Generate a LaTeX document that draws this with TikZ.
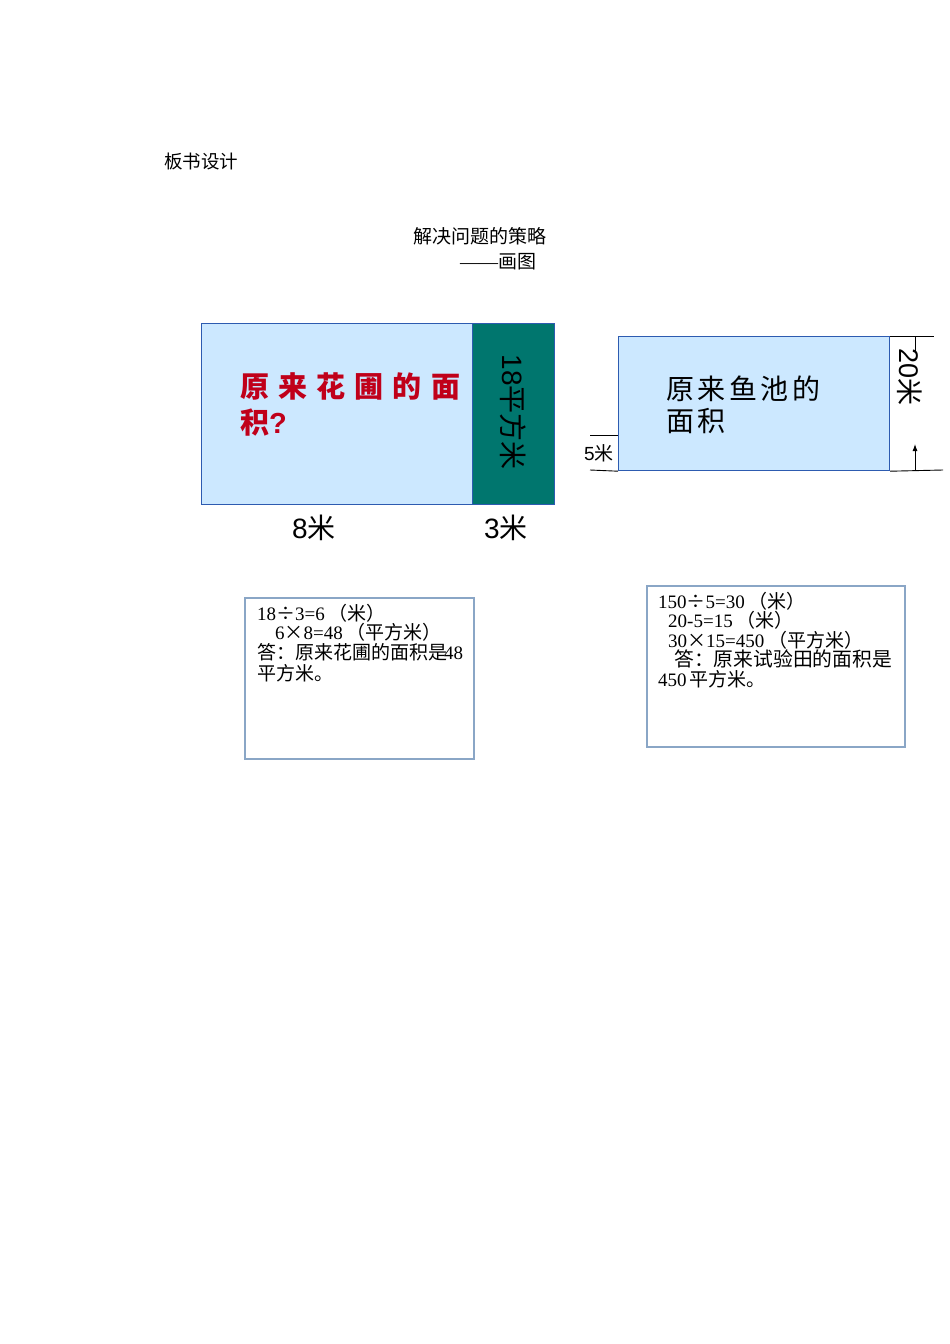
\documentclass[tikz,border=0pt]{standalone}
\usepackage{fontspec}
\setmainfont{Liberation Serif}
\newfontfamily\cjk{Noto Sans CJK SC}
\newfontfamily\hei{Liberation Sans}
\usetikzlibrary{arrows.meta}
\definecolor{lightfill}{HTML}{CCE8FF}
\definecolor{rectborder}{HTML}{2D5BB0}
\definecolor{tealfill}{HTML}{00766E}
\definecolor{boxborder}{HTML}{8AA6C6}
\definecolor{darkred}{HTML}{C0001A}
\tikzset{
  field/.style={draw=rectborder, line width=1.2pt, fill=lightfill, inner sep=0pt, anchor=north west},
  strip/.style={draw=rectborder, line width=1.2pt, fill=tealfill, inner sep=0pt, anchor=north west},
  answerbox/.style={draw=boxborder, line width=2pt, inner sep=0pt, anchor=north west},
  plain/.style={anchor=base west, inner sep=0pt, font=\cjk\fontsize{18.5}{19}\selectfont},
  boxtext/.style={anchor=base west, inner sep=0pt, font=\fontsize{19}{19.5}\selectfont},
  bigred/.style={anchor=base west, inner sep=0pt, text=darkred, font=\cjk\bfseries\fontsize{29}{30}\selectfont},
  bigblack/.style={anchor=base west, inner sep=0pt, font=\cjk\fontsize{28}{30}\selectfont},
  dimlabel/.style={inner sep=0pt, font=\hei\fontsize{28}{28}\selectfont},
  dimline/.style={line width=0.9pt, black},
}
\newcommand{\fw}[1]{{\cjk #1}}
\begin{document}
\begin{tikzpicture}[x=1pt,y=-1pt]
\useasboundingbox[fill=white] (0,0) rectangle (950,1344);

% titles
\node[plain] (t1) at (164,168) {板书设计};
\node[plain, font=\cjk\fontsize{19}{19}\selectfont] (t2) at (413,243) {解决问题的策略};
\node[plain, font=\cjk\fontsize{19}{19}\selectfont] (t3) at (460,268) {{\rmfamily ——}画图};

% left figure
\node[field, minimum width=271pt, minimum height=181pt] (garden) at (201,323) {};
\node[strip, minimum width=82pt, minimum height=181pt] (extra) at (472,323) {};
\node[bigred] (r1) at (240,397) {原\hspace{9.2pt}来\hspace{9.2pt}花\hspace{9.2pt}圃\hspace{9.2pt}的\hspace{9.2pt}面};
\node[bigred] (r2) at (240,433) {积{\hei\bfseries ?}};
\node[dimlabel, rotate=-90] (v18) at (513,412) {18{\cjk 平方米}};
\node[dimlabel] (d8) at (314,528) {8{\cjk 米}};
\node[dimlabel] (d3) at (506,528) {3{\cjk 米}};

% right figure
\node[field, minimum width=271pt, minimum height=134pt] (pond) at (618,336) {};
\node[bigblack] (p1) at (666,399) {原\hspace{3.5pt}来\hspace{3.5pt}鱼\hspace{3.5pt}池\hspace{3.5pt}的};
\node[bigblack] (p2) at (666,431) {面\hspace{3.5pt}积};

\coordinate (rt1) at (934,336);
\coordinate (rb1) at (943,470);
\draw[dimline] (pond.north east) -- (rt1);
\draw[dimline] (pond.south east) -- (rb1);
\coordinate (vtop) at (915,336);
\coordinate (vmid) at (915,352);
\coordinate (abot) at (915,470);
\coordinate (atip) at (915,444);
\draw[dimline] (vtop) -- (vmid);
\draw[dimline, -{Latex[length=7pt,width=5pt]}] (abot) -- (atip);
\node[dimlabel, rotate=-90, font=\hei\fontsize{27}{27}\selectfont] (v20) at (910,377) {20{\cjk 米}};

\coordinate (l5a) at (590,435);
\coordinate (l5b) at (590,470);
\draw[dimline] (l5a) -- (pond.west |- l5a);
\draw[dimline] (l5b) -- (pond.south west);
\node[dimlabel, font=\hei\fontsize{19}{19}\selectfont] (d5) at (599,453) {5{\cjk 米}};

% answer box 1
\node[answerbox, minimum width=229pt, minimum height=161pt] (box1) at (244,597) {};
\node[boxtext] (a1) at (257,620) {18\fw{÷}3=6\kern4pt\fw{（米）}};
\node[boxtext] (a2) at (275,639.5) {6\fw{×}8=48\kern4pt\fw{（平方米）}};
\node[boxtext] (a3) at (257,659) {\fw{答：原来花圃的面积是}\kern-3pt 48};
\node[boxtext] (a4) at (257,680) {\fw{平方米。}};

% answer box 2
\node[answerbox, minimum width=258pt, minimum height=161pt] (box2) at (646,585) {};
\node[boxtext] (b1) at (658,608) {150\fw{÷}5=30\kern4pt\fw{（米）}};
\node[boxtext] (b2) at (668,627) {20-5=15\kern4pt\fw{（米）}};
\node[boxtext] (b3) at (668,647) {30\fw{×}15=450\kern4pt\fw{（平方米）}};
\node[boxtext, font=\fontsize{19.8}{19.5}\selectfont] (b4) at (674,666) {\fw{答：原来试验田的面积是}};
\node[boxtext] (b5) at (658,686) {450\kern3pt\fw{平方米。}};
\end{tikzpicture}
\end{document}
